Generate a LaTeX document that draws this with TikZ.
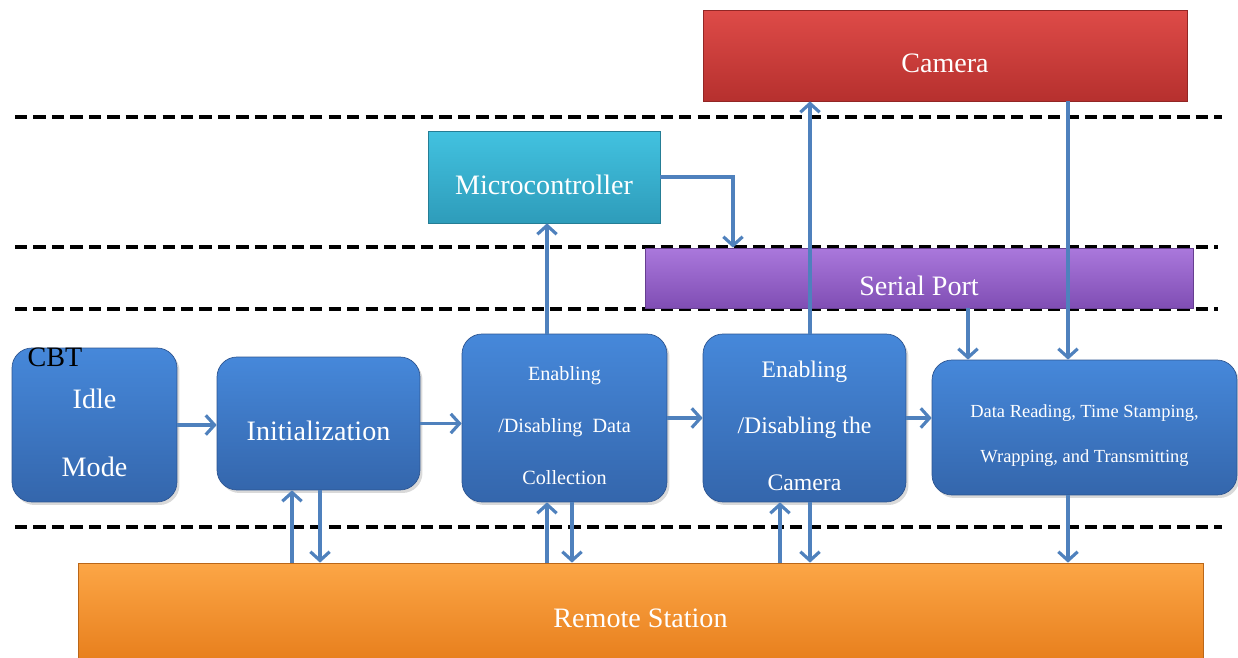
\documentclass[tikz,border=0pt]{standalone}
\usepackage{fontspec}
\setmainfont{Liberation Serif}
\usetikzlibrary{arrows.meta,shadows}

\definecolor{blueTop}{RGB}{70,136,218}
\definecolor{blueBot}{RGB}{52,102,172}
\definecolor{blueLine}{RGB}{45,85,145}
\definecolor{arrowBlue}{RGB}{79,129,189}
\definecolor{camTop}{RGB}{222,75,72}
\definecolor{camBot}{RGB}{182,48,46}
\definecolor{mcuTop}{RGB}{66,194,224}
\definecolor{mcuBot}{RGB}{46,156,186}
\definecolor{spTop}{RGB}{170,120,220}
\definecolor{spBot}{RGB}{128,78,180}
\definecolor{rsTop}{RGB}{252,166,70}
\definecolor{rsBot}{RGB}{232,128,30}

% pushes a block of lines a little lower in its box
\newcommand{\firstline}[1]{\rule{0pt}{#1}}

\tikzset{
  blk/.style={draw=blueLine, rounded corners=0.4cm, top color=blueTop, bottom color=blueBot,
    text=white, align=center, drop shadow={opacity=0.3, shadow xshift=0.05cm, shadow yshift=-0.06cm}},
  bar/.style={draw=#1Bot!80!black, top color=#1Top, bottom color=#1Bot, text=white,
    align=center, font=\fontsize{16}{19}\selectfont, text height=20pt},
  sep/.style={line width=2.6pt, dash pattern=on 7pt off 3.5pt},
  link/.style={arrowBlue, line width=1.8pt}
}

\begin{document}
\begin{tikzpicture}[x=0.02cm, y=-0.02cm, >={Straight Barb[length=5pt,width=11pt]}]
    \useasboundingbox (0,0) rectangle (1238,658);

    % layer separators
    \draw[sep] (15,117) -- (1222,117);
    \draw[sep] (15,247) -- (1218,247);
    \draw[sep] (15,309) -- (1218,309);
    \draw[sep] (15,527) -- (1222,527);

    % columns of the vertical links
    \coordinate (k1) at (292,0);
    \coordinate (k2) at (320,0);
    \coordinate (k3) at (547,0);
    \coordinate (k4) at (572,0);
    \coordinate (k5) at (780,0);
    \coordinate (k6) at (810,0);
    \coordinate (k7) at (968,0);
    \coordinate (k8) at (1068,0);
    \coordinate (k9) at (733,0);

    % units
    \node[bar=cam, minimum width=9.68cm, minimum height=1.82cm] (cam) at (945,55.5) {Camera};
    \node[bar=mcu, minimum width=4.64cm, minimum height=1.84cm] (mcu) at (544,177) {Microcontroller};
    \node[bar=sp, minimum width=10.96cm, minimum height=1.2cm] (sp) at (919,278) {Serial Port};
    \node[bar=rs, minimum width=22.5cm, minimum height=1.9cm] (rs) at (640.5,610.5) {Remote Station};

    % CBT states
    \node[blk, minimum width=3.3cm, minimum height=3.08cm, font=\fontsize{16}{39}\selectfont] (idle) at (94.5,425) {\firstline{20pt}Idle\\Mode};
    \node[blk, minimum width=4.06cm, minimum height=2.66cm, font=\fontsize{16}{19}\selectfont, text height=20pt] (init) at (318.5,423.5) {Initialization};
    \node[blk, minimum width=4.1cm, minimum height=3.36cm, font=\fontsize{11.5}{29.5}\selectfont] (edc) at (564.5,418) {\firstline{16.8pt}Enabling\\/Disabling\enspace Data\\Collection};
    \node[blk, minimum width=4.06cm, minimum height=3.36cm, font=\fontsize{13.5}{32}\selectfont] (edcam) at (804.5,418) {\firstline{18.2pt}Enabling\\/Disabling the\\Camera};
    \node[blk, minimum width=6.1cm, minimum height=2.7cm, font=\fontsize{10.5}{25.5}\selectfont] (dr) at (1084.5,427.5) {\firstline{16.1pt}Data Reading, Time Stamping,\\Wrapping, and Transmitting};
    \node[font=\fontsize{16}{19}\selectfont] (cbt) at (55,357) {CBT};

    % flow between states
    \draw[link,->] (idle.east) -- (idle.east -| init.west);
    \draw[link,->] (init.east) -- (init.east -| edc.west);
    \draw[link,->] (edc.east) -- (edcam.west);
    \draw[link,->] (edcam.east) -- (edcam.east -| dr.west);

    % links to the remote station
    \draw[link,->] (rs.north -| k1) -- (init.south -| k1);
    \draw[link,->] (init.south -| k2) -- (rs.north -| k2);
    \draw[link,->] (rs.north -| k3) -- (edc.south -| k3);
    \draw[link,->] (edc.south -| k4) -- (rs.north -| k4);
    \draw[link,->] (rs.north -| k5) -- (edcam.south -| k5);
    \draw[link,->] (edcam.south -| k6) -- (rs.north -| k6);
    \draw[link,->] (dr.south -| k8) -- (rs.north -| k8);

    % links to the upper layers
    \draw[link,->] (edc.north -| k3) -- (mcu.south -| k3);
    \draw[link,->] (mcu.east) -| (sp.north -| k9);
    \draw[link,->] (edcam.north -| k6) -- (cam.south -| k6);
    \draw[link,->] (cam.south -| k8) -- (dr.north -| k8);
    \draw[link,->] (sp.south -| k7) -- (dr.north -| k7);
  \end{tikzpicture}
\end{document}
